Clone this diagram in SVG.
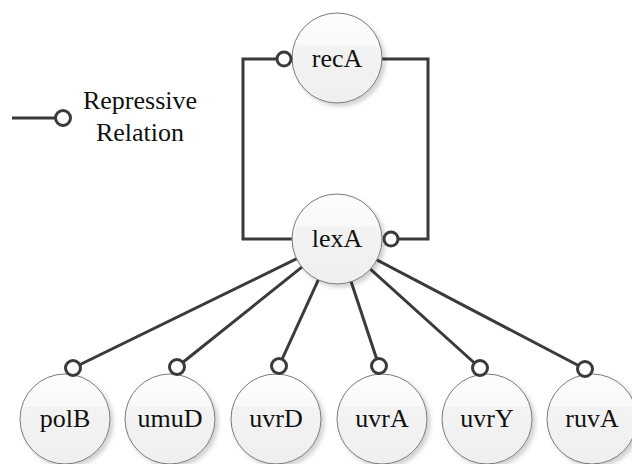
<svg xmlns="http://www.w3.org/2000/svg" width="632" height="464" viewBox="0 0 632 464">
  <defs>
    <linearGradient id="nodeFill" x1="0" y1="0" x2="0" y2="1">
      <stop offset="0" stop-color="#fdfdfd"/>
      <stop offset="0.35" stop-color="#f9f9f9"/>
      <stop offset="0.37" stop-color="#f3f3f3"/>
      <stop offset="1" stop-color="#efefef"/>
    </linearGradient>
    <filter id="shadow" x="-20%" y="-20%" width="150%" height="150%">
      <feDropShadow dx="3" dy="3" stdDeviation="2" flood-color="#000" flood-opacity="0.18"/>
    </filter>
  </defs>
  <style>
    .node circle { fill: url(#nodeFill); stroke: #7a7a7a; stroke-width: 1; filter: url(#shadow); }
    text { font-family: 'Liberation Serif', serif; font-size: 26px; fill: #111; text-anchor: middle; }
    .edge { fill: none; stroke: #3a3a3a; stroke-width: 3; stroke-linejoin: miter; }
    .knob { fill: #fff; stroke: #3a3a3a; stroke-width: 3; }
  </style>
  <rect width="632" height="464" fill="#fff"/>

  <!-- legend -->
  <g id="legend">
    <line class="edge" x1="12" y1="118" x2="55" y2="118"/>
    <circle class="knob" cx="63" cy="118" r="7.5"/>
    <text x="140" y="109" font-family="Liberation Serif, serif">Repressive</text>
    <text x="140" y="141" font-family="Liberation Serif, serif">Relation</text>
  </g>

  <!-- connectors -->
  <g id="connectors">
    <polyline class="edge" points="337,239 243,239 243,59 282,59"/>
    <polyline class="edge" points="382,59 428,59 428,239 392,239"/>
    <line class="edge" x1="337" y1="239" x2="73" y2="368"/>
    <line class="edge" x1="337" y1="239" x2="177" y2="367"/>
    <line class="edge" x1="337" y1="239" x2="279" y2="366"/>
    <line class="edge" x1="337" y1="239" x2="379" y2="366"/>
    <line class="edge" x1="337" y1="239" x2="480" y2="368"/>
    <line class="edge" x1="337" y1="239" x2="585" y2="369"/>
  </g>

  <!-- nodes -->
  <g id="recA" class="node">
    <circle cx="337" cy="58" r="45"/>
    <text x="337" y="67" font-family="Liberation Serif, serif">recA</text>
  </g>
  <g id="lexA" class="node">
    <circle cx="337" cy="239" r="45"/>
    <text x="337" y="247" font-family="Liberation Serif, serif">lexA</text>
  </g>
  <g id="polB" class="node">
    <circle cx="65" cy="419" r="45"/>
    <text x="65" y="427" font-family="Liberation Serif, serif">polB</text>
  </g>
  <g id="umuD" class="node">
    <circle cx="170" cy="419" r="45"/>
    <text x="170" y="427" font-family="Liberation Serif, serif">umuD</text>
  </g>
  <g id="uvrD" class="node">
    <circle cx="276" cy="419" r="45"/>
    <text x="276" y="427" font-family="Liberation Serif, serif">uvrD</text>
  </g>
  <g id="uvrA" class="node">
    <circle cx="382" cy="419" r="45"/>
    <text x="382" y="427" font-family="Liberation Serif, serif">uvrA</text>
  </g>
  <g id="uvrY" class="node">
    <circle cx="487" cy="419" r="45"/>
    <text x="487" y="427" font-family="Liberation Serif, serif">uvrY</text>
  </g>
  <g id="ruvA" class="node">
    <circle cx="592" cy="419" r="45"/>
    <text x="592" y="427" font-family="Liberation Serif, serif">ruvA</text>
  </g>

  <!-- repression end markers -->
  <g id="markers">
    <circle class="knob" cx="284" cy="59" r="7"/>
    <circle class="knob" cx="391" cy="239" r="7"/>
    <circle class="knob" cx="73" cy="368" r="7.5"/>
    <circle class="knob" cx="177" cy="367" r="7.5"/>
    <circle class="knob" cx="279" cy="366" r="7.5"/>
    <circle class="knob" cx="379" cy="366" r="7.5"/>
    <circle class="knob" cx="480" cy="368" r="7.5"/>
    <circle class="knob" cx="585" cy="369" r="7.5"/>
  </g>
</svg>
